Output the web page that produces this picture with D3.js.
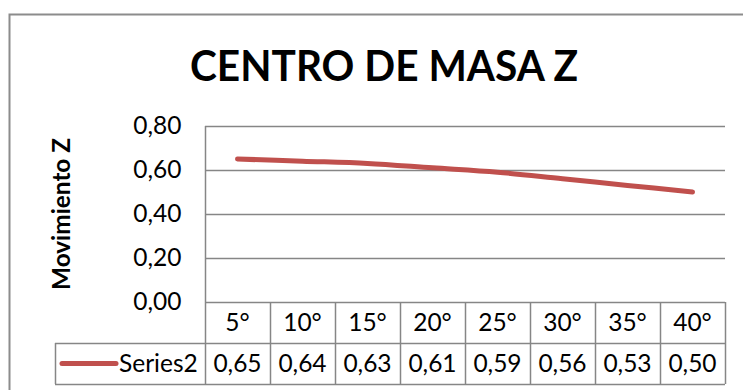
<!DOCTYPE html>
<html>
<head>
<meta charset="utf-8">
<script src="https://cdn.jsdelivr.net/npm/d3@7"></script>
<style>
  html, body { margin: 0; padding: 0; background: #fff; }
  svg { display: block; }
  text { font-family: Lato, "Open Sans", sans-serif; fill: #000; }
</style>
</head>
<body>
<svg id="chart" width="743" height="390"></svg>
<script>
// Data
const categories = ["5°", "10°", "15°", "20°", "25°", "30°", "35°", "40°"];
const seriesName = "Series2";
const seriesValues = [0.65, 0.64, 0.63, 0.61, 0.59, 0.56, 0.53, 0.50];
const yTicks = [0.0, 0.2, 0.4, 0.6, 0.8];
const chartTitle = "CENTRO DE MASA Z";
const yTitle = "Movimiento Z";

const W = 743, H = 390;
const plot = { left: 205, right: 725, top: 126, bottom: 302 };
const tableRows = { catBottom: 343, valBottom: 384, legendLeft: 55 };
const gridColor = "#868686";
const lineColor = "#C0504D";
const labelSize = 24.5;

const locale = d3.formatLocale({ decimal: ",", thousands: ".", grouping: [3], currency: ["", "€"] });
const fmt = locale.format(".2f");

const svg = d3.select("#chart");

// Outer chart frame (continues past the right and bottom edges)
svg.append("rect")
  .attr("x", 9.5).attr("y", 14.5)
  .attr("width", 800).attr("height", 420)
  .attr("fill", "#fff")
  .attr("stroke", "#8c8c8c").attr("stroke-width", 2);

const x = d3.scaleBand().domain(categories).range([plot.left, plot.right]).padding(0);
const y = d3.scaleLinear().domain([0, 0.8]).range([plot.bottom, plot.top]);

// Title
svg.append("text")
  .attr("x", 384).attr("y", 81)
  .attr("text-anchor", "middle")
  .attr("font-weight", "bold")
  .attr("font-size", 42)
  .attr("textLength", 388).attr("lengthAdjust", "spacingAndGlyphs")
  .text(chartTitle);

// Y axis title
svg.append("text")
  .attr("transform", "translate(70,214) rotate(-90)")
  .attr("text-anchor", "middle")
  .attr("font-weight", "bold")
  .attr("font-size", labelSize)
  .attr("textLength", 152).attr("lengthAdjust", "spacingAndGlyphs")
  .text(yTitle);

// Horizontal gridlines
svg.append("g")
  .selectAll("line")
  .data(yTicks)
  .join("line")
  .attr("x1", plot.left).attr("x2", plot.right)
  .attr("y1", d => Math.round(y(d)) + 0.5).attr("y2", d => Math.round(y(d)) + 0.5)
  .attr("stroke", gridColor).attr("stroke-width", 1.5);

// Y axis with tick labels
const yAxis = d3.axisLeft(y).tickValues(yTicks).tickFormat(fmt).tickSize(0).tickPadding(24);
const gy = svg.append("g").attr("transform", `translate(${plot.left + 0.5},0)`).call(yAxis);
gy.select(".domain").remove();
gy.selectAll("text")
  .attr("font-family", "Lato, 'Open Sans', sans-serif")
  .attr("font-size", labelSize)
  .attr("fill", "#000");

// Vertical axis line through plot and data table
svg.append("line")
  .attr("x1", plot.left + 0.5).attr("x2", plot.left + 0.5)
  .attr("y1", plot.top).attr("y2", tableRows.valBottom)
  .attr("stroke", gridColor).attr("stroke-width", 1.5);

// Data table grid
const tg = svg.append("g").attr("stroke", gridColor).attr("stroke-width", 1.5);
categories.forEach(c => {
  const xr = x(c) + x.bandwidth();
  tg.append("line")
    .attr("x1", Math.round(xr) + 0.5).attr("x2", Math.round(xr) + 0.5)
    .attr("y1", plot.bottom).attr("y2", tableRows.valBottom);
});
[tableRows.catBottom, tableRows.valBottom].forEach(yy => {
  tg.append("line")
    .attr("x1", tableRows.legendLeft).attr("x2", plot.right)
    .attr("y1", yy + 0.5).attr("y2", yy + 0.5);
});
tg.append("line")
  .attr("x1", tableRows.legendLeft + 0.5).attr("x2", tableRows.legendLeft + 0.5)
  .attr("y1", tableRows.catBottom).attr("y2", tableRows.valBottom);

// Category labels (first table row)
svg.append("g")
  .selectAll("text")
  .data(categories)
  .join("text")
  .attr("x", d => x(d) + x.bandwidth() / 2)
  .attr("y", (plot.bottom + tableRows.catBottom) / 2)
  .attr("dy", "0.36em")
  .attr("text-anchor", "middle")
  .attr("font-size", labelSize)
  .text(d => d);

// Value labels (second table row)
svg.append("g")
  .selectAll("text")
  .data(seriesValues)
  .join("text")
  .attr("x", (d, i) => x(categories[i]) + x.bandwidth() / 2)
  .attr("y", (tableRows.catBottom + tableRows.valBottom) / 2)
  .attr("dy", "0.36em")
  .attr("text-anchor", "middle")
  .attr("font-size", labelSize)
  .text(d => fmt(d));

// Legend key inside the table
const legY = (tableRows.catBottom + tableRows.valBottom) / 2;
svg.append("line")
  .attr("x1", 62).attr("x2", 116)
  .attr("y1", legY).attr("y2", legY)
  .attr("stroke", lineColor).attr("stroke-width", 5)
  .attr("stroke-linecap", "round");
svg.append("text")
  .attr("x", 119).attr("y", legY)
  .attr("dy", "0.36em")
  .attr("font-size", labelSize)
  .text(seriesName);

// Series line (smoothed)
const line = d3.line()
  .x((d, i) => x(categories[i]) + x.bandwidth() / 2)
  .y(d => y(d))
  .curve(d3.curveCatmullRom.alpha(0.5));
svg.append("path")
  .datum(seriesValues)
  .attr("d", line)
  .attr("fill", "none")
  .attr("stroke", lineColor)
  .attr("stroke-width", 5)
  .attr("stroke-linecap", "round")
  .attr("stroke-linejoin", "round");
</script>
</body>
</html>
